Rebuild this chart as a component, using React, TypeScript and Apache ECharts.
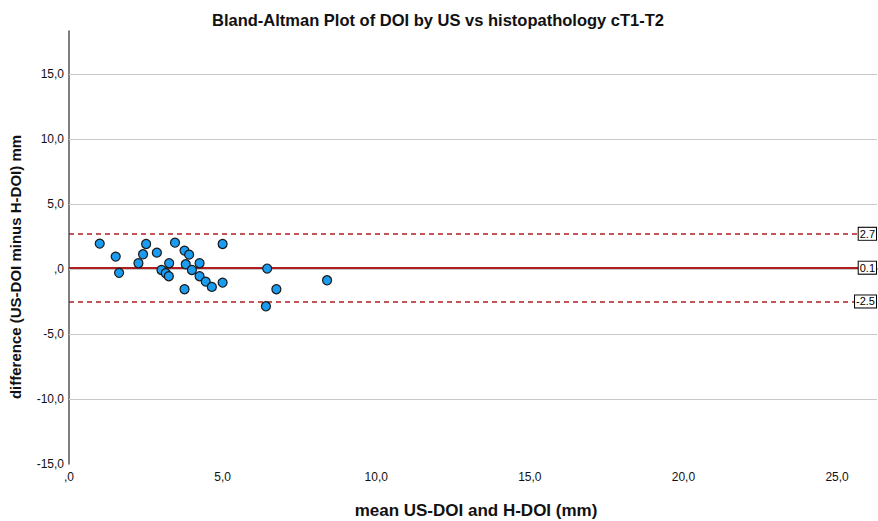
import React, { useEffect, useRef } from "react";
import * as echarts from "echarts";

const titleText = "Bland-Altman Plot of DOI by US vs histopathology cT1-T2";
const xTitle = "mean US-DOI and H-DOI (mm)";
const yTitle = "difference (US-DOI minus H-DOI) mm";

const meanVals = [1.0, 1.52, 1.63, 2.26, 2.41, 2.51, 2.86, 3.01, 3.15, 3.25, 3.26, 3.45, 3.76, 3.76, 3.8, 3.91, 4.0, 4.25, 4.25, 4.45, 4.65, 5.0, 5.0, 6.45, 6.41, 6.75, 8.4];
const diffVals = [1.95, 0.95, -0.3, 0.44, 1.13, 1.92, 1.26, -0.08, -0.33, -0.56, 0.44, 2.02, 1.41, -1.56, 0.36, 1.1, -0.08, 0.44, -0.56, -0.97, -1.38, 1.92, -1.05, 0.03, -2.87, -1.56, -0.87];

const meanDiff = 0.1;
const upperLoA = 2.7;
const lowerLoA = -2.5;
const gridValues = [-10, -5, 0, 5, 10, 15];

const xMin = 0, xMax = 26.3, yMin = -15, yMax = 18.3, step = 5;

const fmt = (v: number) => {
  if (Math.abs(v / step - Math.round(v / step)) > 1e-6) return "";
  if (v === 0) return ",0";
  return v.toFixed(1).replace(".", ",");
};

export default function App() {
  const ref = useRef<HTMLDivElement>(null);
  useEffect(() => {
    document.body.style.margin = "0";
    const chart = echarts.init(ref.current!, null, { renderer: "svg" });
    const red = "#b01e22";
    const boxLabel = {
      show: true,
      position: "insideEnd",
      distance: 1,
      formatter: (p: any) => String(p.value),
      fontFamily: "Liberation Sans",
      fontSize: 11,
      color: "#000",
      backgroundColor: "#fff",
      borderColor: "#000",
      borderWidth: 1,
      padding: [1, 1, 0, 1],
    };
    chart.setOption({
      animation: false,
      backgroundColor: "#fff",
      textStyle: { fontFamily: "Liberation Sans" },
      grid: { left: 69, right: 1, top: 31, bottom: 57, containLabel: false },
      xAxis: {
        type: "value",
        min: xMin,
        max: xMax,
        interval: step,
        axisLine: { show: true, lineStyle: { color: "#555", width: 1.5 } },
        axisTick: { show: false },
        splitLine: { show: false },
        axisLabel: { formatter: fmt, color: "#111", fontSize: 12, margin: 7, showMaxLabel: false },
      },
      yAxis: {
        type: "value",
        min: yMin,
        max: yMax,
        interval: step,
        axisLine: { show: true, onZero: false, lineStyle: { color: "#555", width: 1.5 } },
        axisTick: { show: false },
        splitLine: { show: false },
        axisLabel: { formatter: fmt, color: "#111", fontSize: 12, margin: 5, showMaxLabel: false },
      },
      graphic: [
        { type: "text", x: 438, y: 20, style: { text: titleText, font: "bold 16.5px 'Liberation Sans'", fill: "#111", align: "center", verticalAlign: "middle" } },
        { type: "text", x: 476, y: 510, style: { text: xTitle, font: "bold 17px 'Liberation Sans'", fill: "#111", align: "center", verticalAlign: "middle" } },
        { type: "text", x: 15, y: 267, rotation: Math.PI / 2, style: { text: yTitle, font: "bold 15px 'Liberation Sans'", fill: "#111", align: "center", verticalAlign: "middle" } },
      ],
      series: [
        {
          type: "scatter",
          data: [],
          silent: true,
          markLine: {
            silent: true,
            symbol: "none",
            label: { show: false },
            lineStyle: { color: "#c8c8c8", width: 1, type: "solid" },
            data: gridValues.map((v) => ({ yAxis: v })),
          },
        },
        {
          type: "scatter",
          data: [],
          silent: true,
          markLine: {
            silent: true,
            symbol: "none",
            data: [
              { yAxis: upperLoA, lineStyle: { color: red, width: 1.5, type: [5, 4] }, label: boxLabel },
              { yAxis: meanDiff, lineStyle: { color: red, width: 2, type: "solid" }, label: boxLabel },
              { yAxis: lowerLoA, lineStyle: { color: red, width: 1.5, type: [5, 4] }, label: boxLabel },
            ],
          },
        },
        {
          type: "scatter",
          symbolSize: 9,
          itemStyle: { color: "#1a9cf0", borderColor: "#1a1a1a", borderWidth: 1.2, opacity: 1 },
          data: meanVals.map((m, i) => [m, diffVals[i]]),
          z: 5,
        },
      ],
    });
    return () => chart.dispose();
  }, []);
  return <div ref={ref} style={{ width: 878, height: 521 }} />;
}
